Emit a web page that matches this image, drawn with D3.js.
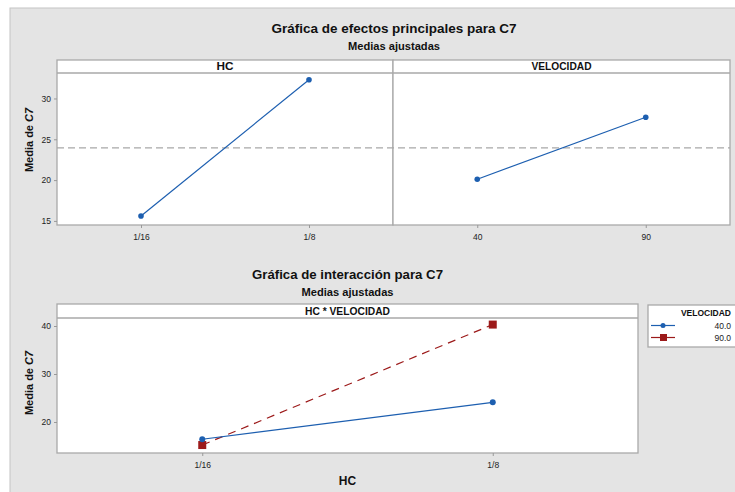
<!DOCTYPE html>
<html><head><meta charset="utf-8">
<script src="https://cdn.jsdelivr.net/npm/d3@7"></script>
<style>body{margin:0;background:#fff}svg{display:block;font-family:"Liberation Sans",Arial,sans-serif}</style>
</head><body><svg id="c" width="735" height="492"></svg>
<script>
// ---- data ----
const hcLevels = ["1/16", "1/8"];
const velLevels = ["40", "90"];
const hcMeans = [15.6, 32.3];
const velMeans = [20.1, 27.7];
const grandMean = 23.95;
const interVel40 = [16.4, 24.1];
const interVel90 = [15.2, 40.3];
const legendLabels = ["40.0", "90.0"];
const topTicks = [15, 20, 25, 30];
const botTicks = [20, 30, 40];

const svg = d3.select("#c");
const BLUE = "#1d5fb0", RED = "#9c1a1a", BORDER = "#a9a9a9";

svg.append("rect").attr("x",10).attr("y",8).attr("width",726).attr("height",486)
  .attr("fill","#e4e4e4").attr("stroke","#c4c4c4").attr("stroke-width",1);

function text(x,y,s,size,opts={}){
  const t = svg.append("text").attr("x",x).attr("y",y).attr("font-size",size)
    .attr("font-weight",opts.bold?"bold":"normal").attr("fill",opts.fill||"#111")
    .attr("text-anchor",opts.anchor||"middle").text(s);
  if(opts.len) t.attr("textLength",opts.len).attr("lengthAdjust","spacingAndGlyphs");
  return t;
}

// ---- titles ----
text(394,33,"Gráfica de efectos principales para C7",13,{bold:true,len:245});
text(394,50,"Medias ajustadas",10.5,{bold:true,len:92});
text(347.5,279,"Gráfica de interacción para C7",13,{bold:true,len:191});
text(347.5,296,"Medias ajustadas",10.5,{bold:true,len:92});

// ---- top panels ----
const topP = {y0:60, strip:73, y1:225};
const yTop = d3.scaleLinear().domain([14.5,33.12]).range([topP.y1, topP.strip]);
const xHC = d3.scalePoint().domain(hcLevels).range([57,393]).padding(0.5);
const xVel = d3.scalePoint().domain(velLevels).range([393,730]).padding(0.5);

function panel(x0,x1,y0,strip,y1,label,labLen){
  svg.append("rect").attr("x",x0).attr("y",y0).attr("width",x1-x0).attr("height",y1-y0)
    .attr("fill","#fff").attr("stroke",BORDER).attr("stroke-width",1.3);
  svg.append("line").attr("x1",x0).attr("x2",x1).attr("y1",strip).attr("y2",strip)
    .attr("stroke",BORDER).attr("stroke-width",1.3);
  text((x0+x1)/2, strip-3.5, label, 10, {bold:true,len:labLen});
}
panel(57,393,topP.y0,topP.strip,topP.y1,"HC",17);
panel(393,730,topP.y0,topP.strip,topP.y1,"VELOCIDAD",60);

svg.append("g").attr("transform","translate(57,0)")
  .call(d3.axisLeft(yTop).tickValues(topTicks).tickSize(3).tickPadding(3));
svg.append("g").attr("transform",`translate(0,${topP.y1})`)
  .call(d3.axisBottom(xHC).tickSize(3).tickPadding(6));
svg.append("g").attr("transform",`translate(0,${topP.y1})`)
  .call(d3.axisBottom(xVel).tickSize(3).tickPadding(6));

// mean line
svg.append("line").attr("x1",57).attr("x2",730).attr("y1",yTop(grandMean)).attr("y2",yTop(grandMean))
  .attr("stroke","#a8a8a8").attr("stroke-width",1.2).attr("stroke-dasharray","7,4");

function series(xs, levels, vals, y, color, dash, marker, size){
  const pts = levels.map((l,i)=>[xs(l), y(vals[i])]);
  svg.append("path").attr("d",d3.line()(pts)).attr("fill","none").attr("stroke",color)
    .attr("stroke-width",1.2).attr("stroke-dasharray",dash||null);
  pts.forEach(p=>{
    if(marker==="square") svg.append("rect").attr("x",p[0]-size/2).attr("y",p[1]-size/2)
      .attr("width",size).attr("height",size).attr("fill",color);
    else svg.append("circle").attr("cx",p[0]).attr("cy",p[1]).attr("r",size).attr("fill",color);
  });
}
series(xHC, hcLevels, hcMeans, yTop, BLUE, null, "circle", 2.8);
series(xVel, velLevels, velMeans, yTop, BLUE, null, "circle", 2.8);

svg.append("text").attr("transform","translate(33,140) rotate(-90)").attr("text-anchor","middle")
  .attr("font-size",11).attr("font-weight","bold").attr("fill","#111")
  .html('Media de <tspan font-style="italic">C7</tspan>');

// ---- bottom panel ----
const botP = {y0:304, strip:318, y1:453};
const yBot = d3.scaleLinear().domain([13.54,41.67]).range([botP.y1, botP.strip]);
const xB = d3.scalePoint().domain(hcLevels).range([57,638]).padding(0.5);
panel(57,638,botP.y0,botP.strip,botP.y1,"HC * VELOCIDAD",85);
svg.append("g").attr("transform","translate(57,0)")
  .call(d3.axisLeft(yBot).tickValues(botTicks).tickSize(3).tickPadding(3));
svg.append("g").attr("transform",`translate(0,${botP.y1})`)
  .call(d3.axisBottom(xB).tickSize(3).tickPadding(6));

series(xB, hcLevels, interVel90, yBot, RED, "8,6", "square", 8);
series(xB, hcLevels, interVel40, yBot, BLUE, null, "circle", 3);

svg.append("text").attr("transform","translate(33,383) rotate(-90)").attr("text-anchor","middle")
  .attr("font-size",11).attr("font-weight","bold").attr("fill","#111")
  .html('Media de <tspan font-style="italic">C7</tspan>');
text(347.5,485,"HC",12,{bold:true});

svg.selectAll(".domain").remove();
svg.selectAll(".tick line").attr("stroke","#999");
svg.selectAll(".tick text").attr("font-size",8.5).attr("fill","#222")
  .attr("font-family","'Liberation Sans',Arial,sans-serif");

// ---- legend ----
svg.append("rect").attr("x",648).attr("y",305).attr("width",92).attr("height",42)
  .attr("fill","#fff").attr("stroke",BORDER).attr("stroke-width",1.3);
text(731,316,"VELOCIDAD",8.5,{bold:true,anchor:"end"});
const legColors=[BLUE,RED];
legendLabels.forEach((l,i)=>{
  const y = 325.5 + i*12;
  svg.append("line").attr("x1",651).attr("x2",675).attr("y1",y).attr("y2",y)
    .attr("stroke",legColors[i]).attr("stroke-width",1.2);
  if(i===0) svg.append("circle").attr("cx",663).attr("cy",y).attr("r",2.5).attr("fill",BLUE);
  else svg.append("rect").attr("x",660).attr("y",y-3.5).attr("width",7).attr("height",7).attr("fill",RED);
  text(731,y+3,l,8.5,{anchor:"end",fill:"#222"});
});
</script></body></html>
